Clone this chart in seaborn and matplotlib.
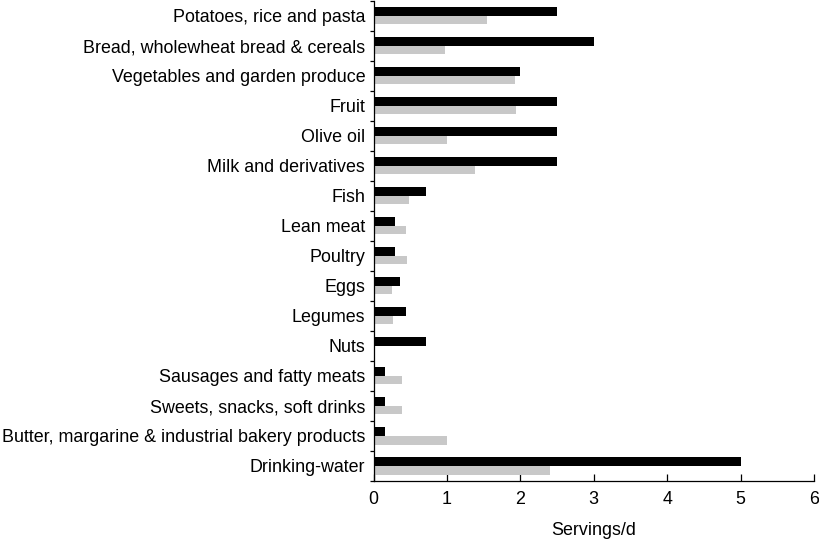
import matplotlib
matplotlib.use("Agg")
import matplotlib.pyplot as plt
import seaborn as sns
import pandas as pd
import numpy as np
from matplotlib.ticker import FixedLocator

categories = [
    "Potatoes, rice and pasta",
    "Bread, wholewheat bread & cereals",
    "Vegetables and garden produce",
    "Fruit",
    "Olive oil",
    "Milk and derivatives",
    "Fish",
    "Lean meat",
    "Poultry",
    "Eggs",
    "Legumes",
    "Nuts",
    "Sausages and fatty meats",
    "Sweets, snacks, soft drinks",
    "Butter, margarine & industrial bakery products",
    "Drinking-water",
]
recommended = [2.5, 3.0, 2.0, 2.5, 2.5, 2.5, 0.71, 0.29, 0.29, 0.36, 0.44, 0.71, 0.15, 0.15, 0.15, 5.0]
consumed = [1.55, 0.97, 1.93, 1.94, 1.0, 1.38, 0.48, 0.44, 0.45, 0.25, 0.27, 0.0, 0.39, 0.39, 1.0, 2.4]
series_names = ["Recommended", "Consumed"]
x_ticks = [0, 1, 2, 3, 4, 5, 6]

df = pd.DataFrame({
    "food": categories * 2,
    "value": recommended + consumed,
    "series": [series_names[0]] * len(categories) + [series_names[1]] * len(categories),
})

sns.set_style("white")
plt.rcParams["font.family"] = ["Liberation Sans", "DejaVu Sans"]
plt.rcParams["text.color"] = "black"
plt.rcParams["xtick.color"] = "black"
plt.rcParams["ytick.color"] = "black"
plt.rcParams["axes.labelcolor"] = "black"

FS = 12.9

fig = plt.figure(figsize=(8.19, 5.39), dpi=100)
ax = fig.add_axes([373.5 / 819, 1 - 481 / 539, (814 - 373.5) / 819, 480.5 / 539])

sns.barplot(data=df, y="food", x="value", hue="series", order=categories,
            hue_order=series_names, palette=["#000000", "#c8c8c8"],
            width=0.57, orient="h", ax=ax, legend=False, errorbar=None,
            saturation=1, linewidth=0)

ax.set_xlim(0, 6)
ax.set_ylim(len(categories) - 0.5, -0.5)
ax.set_xticks(x_ticks)
ax.set_xticklabels([str(t) for t in x_ticks], fontsize=FS)
ax.set_ylabel("")
ax.set_xlabel("Servings/d", fontsize=FS, labelpad=10.5)
ax.tick_params(axis="y", which="major", length=0, pad=6, labelsize=FS, labelcolor="black")
ax.yaxis.set_minor_locator(FixedLocator(np.arange(-0.5, len(categories), 1.0)))
ax.tick_params(axis="y", which="minor", length=3, width=0.9, direction="out", color="black", left=True)
ax.tick_params(axis="x", which="major", length=5, width=0.9, direction="in", color="black", pad=7,
               bottom=True, labelcolor="black")

for s in ["top", "right"]:
    ax.spines[s].set_visible(False)
for s in ["left", "bottom"]:
    ax.spines[s].set_color("black")
    ax.spines[s].set_linewidth(0.9)

fig.savefig("out.png", dpi=100)
